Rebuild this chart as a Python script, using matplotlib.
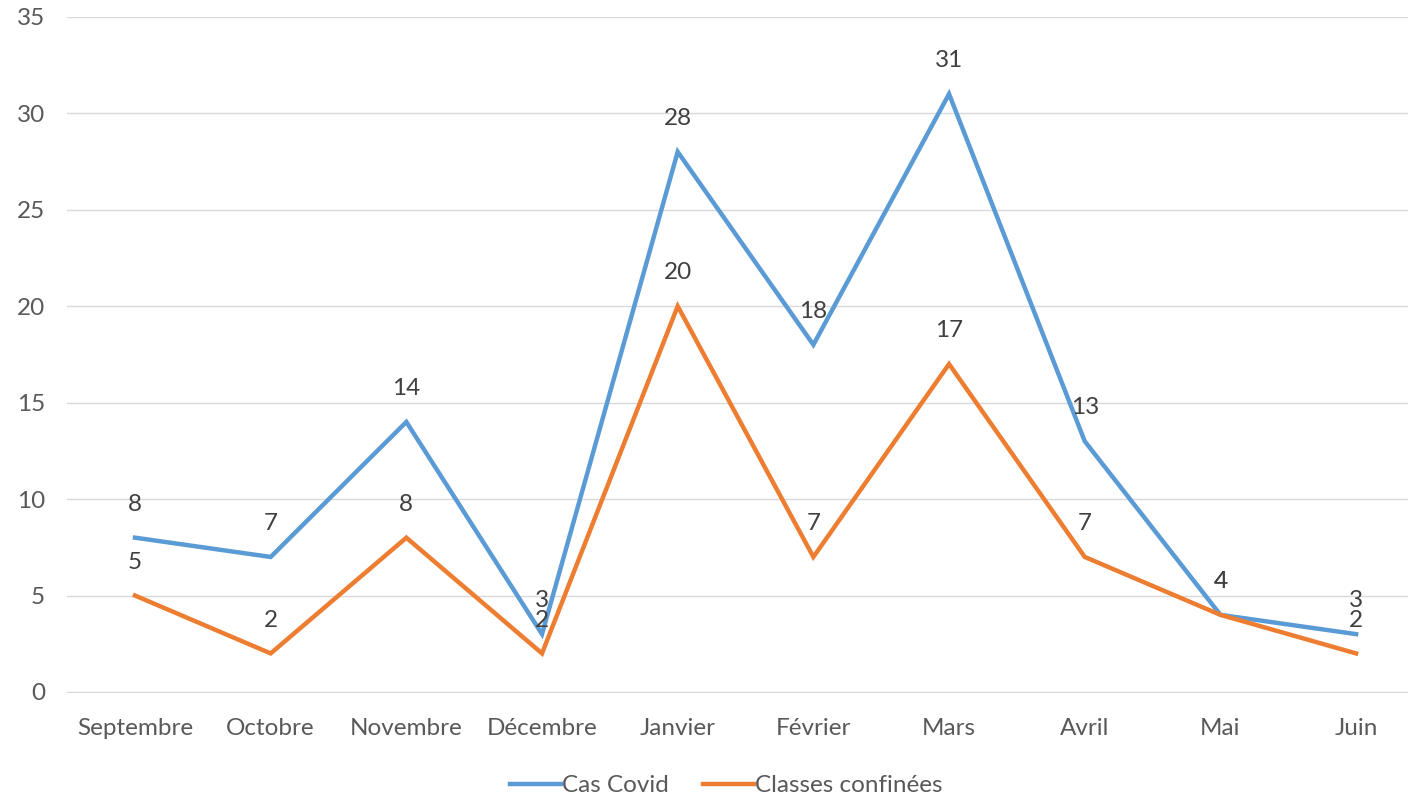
import matplotlib
matplotlib.use("Agg")
import matplotlib.pyplot as plt

months = ["Septembre", "Octobre", "Novembre", "Décembre", "Janvier", "Février", "Mars", "Avril", "Mai", "Juin"]
cas_covid = [8, 7, 14, 3, 28, 18, 31, 13, 4, 3]
classes_confinees = [5, 2, 8, 2, 20, 7, 17, 7, 4, 2]
yticks = [0, 5, 10, 15, 20, 25, 30, 35]

plt.rcParams['font.family'] = ['Lato', 'DejaVu Sans']
fig = plt.figure(figsize=(14.08, 8), dpi=100)
ax = fig.add_axes([0.0477, 0.135, 0.9636, 0.844])

blue = "#5B9BD5"
orange = "#ED7D31"
fs = 17.5
x = list(range(len(months)))
ax.plot(x, cas_covid, color=blue, lw=3.2, label="Cas Covid", solid_joinstyle="miter", zorder=3, clip_on=False)
ax.plot(x, classes_confinees, color=orange, lw=3.2, label="Classes confinées", solid_joinstyle="miter", zorder=3, clip_on=False)

for xi, v in zip(x, cas_covid):
    ax.annotate(str(v), (xi, v), xytext=(0, 24), textcoords="offset points", ha="center", va="center",
                fontsize=fs, color="#404040")
for xi, v in zip(x, classes_confinees):
    ax.annotate(str(v), (xi, v), xytext=(0, 24), textcoords="offset points", ha="center", va="center",
                fontsize=fs, color="#404040")

ax.set_xlim(-0.5, len(months) - 0.5)
ax.set_ylim(0, 35)
ax.set_yticks(yticks)
ax.set_xticks(x)
ax.set_xticklabels(months)
ax.grid(axis="y", color="#D9D9D9", lw=1)
ax.set_axisbelow(True)
for s in ["top", "right", "left"]:
    ax.spines[s].set_visible(False)
ax.spines["bottom"].set_color("#D9D9D9")
ax.tick_params(axis="both", length=0, labelsize=fs, labelcolor="#595959")
ax.tick_params(axis="x", pad=19)
ax.tick_params(axis="y", pad=16)

fig.legend(loc="center", bbox_to_anchor=(0.516, 0.018), ncol=2, frameon=False,
           fontsize=fs, labelcolor="#595959", handlelength=2.1, handletextpad=0.05, columnspacing=1.4)

fig.savefig("out.png", dpi=100)
